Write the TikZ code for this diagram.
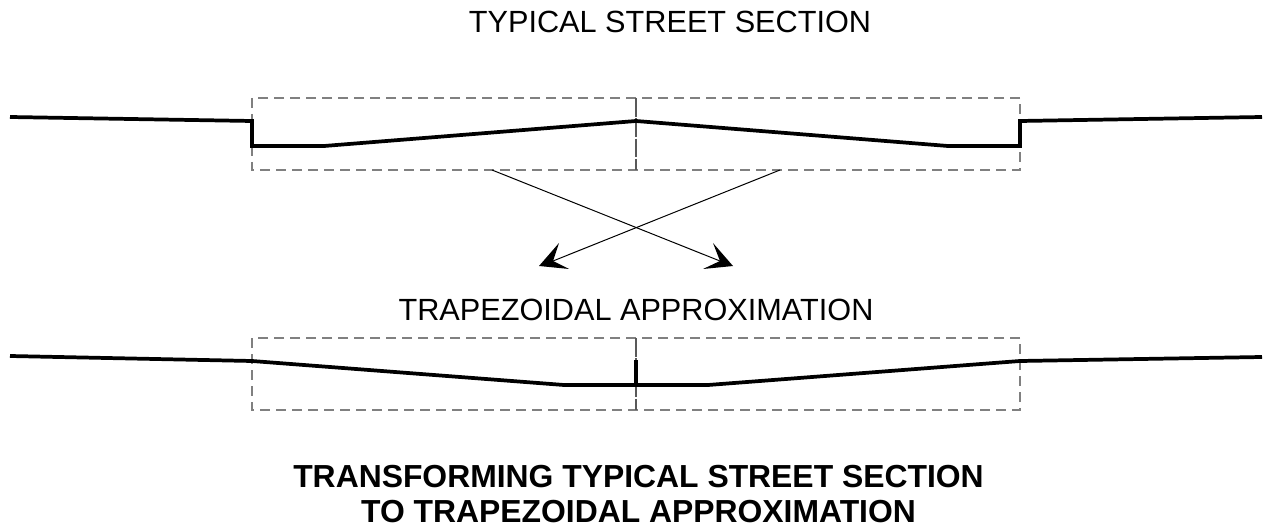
\documentclass[tikz,border=0pt]{standalone}
\usepackage{fontspec}
\setmainfont{Liberation Sans}
\tikzset{
  guide/.style={draw=black!50,line width=0.85pt,dash pattern=on 7.5pt off 4.5pt},
  axisline/.style={draw=black!65,line width=0.8pt,dash pattern=on 14pt off 1.2pt},
  profile/.style={draw=black,line width=2.8pt,line join=miter},
  link/.style={draw=black,line width=0.75pt},
  tip/.style={fill=black,draw=none},
  label/.style={font=\fontsize{23pt}{27pt}\selectfont,inner sep=0pt,anchor=center},
  heading/.style={font=\fontsize{23.9pt}{27pt}\selectfont\bfseries,inner sep=0pt,anchor=center}
}
\begin{document}
\begin{tikzpicture}[x=0.75pt,y=-0.75pt]
\useasboundingbox (0,0) rectangle (1265,531);
% dashed boxes
\draw[guide] (252,98) rectangle (1020,170);
\draw[guide] (252,338) rectangle (1020,410);
\draw[axisline] (636,98) -- (636,170);
\draw[axisline] (636,338) -- (636,410);
% profiles
\draw[profile] (10,117) -- (252,121) -- (252,146) -- (324,146) -- (636,121) -- (948,146) -- (1020,146) -- (1020,121) -- (1262,117);
\draw[profile] (10,356) -- (252,361) -- (564,385) -- (708,385) -- (1020,361) -- (1262,357);
\draw[profile] (636,360) -- (636,385);
% crossing arrows
\coordinate (startL) at (492,170);
\coordinate (startR) at (780,170);
\coordinate (notchR) at (720,261);
\coordinate (notchL) at (553,261);
\draw[link] (startL) -- (notchR);
\draw[link] (startR) -- (notchL);
\fill[tip] (539,266) -- (559,243) -- (notchL) -- (569,269) -- cycle;
\fill[tip] (733,266) -- (713,243) -- (notchR) -- (703,269) -- cycle;
% texts
\node[label] (t1) at (670,22) {TYPICAL STREET SECTION};
\node[label] (t2) at (636,310) {TRAPEZOIDAL APPROXIMATION};
\node[heading] (t3) at (638.5,477) {TRANSFORMING TYPICAL STREET SECTION};
\node[heading] (t4) at (638.5,512) {TO TRAPEZOIDAL APPROXIMATION};
\end{tikzpicture}
\end{document}
